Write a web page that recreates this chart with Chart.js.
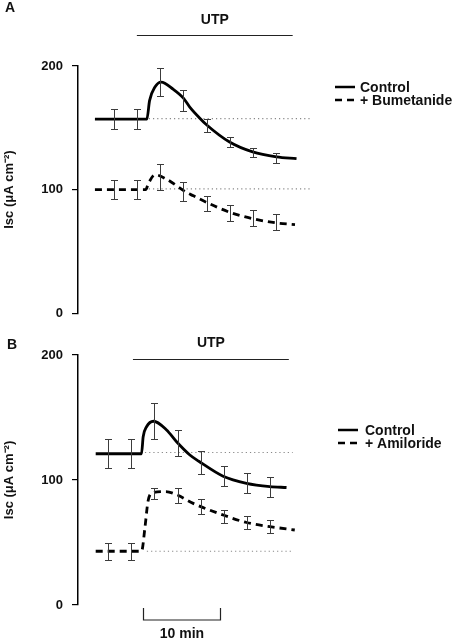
<!DOCTYPE html>
<html>
<head>
<meta charset="utf-8">
<script src="https://cdn.jsdelivr.net/npm/chart.js@4.4.0/dist/chart.umd.min.js"></script>
<style>
  html, body { margin: 0; padding: 0; background: #fff; }
  canvas { display: block; }
</style>
</head>
<body>
<canvas id="chartA" width="460" height="330"></canvas>
<canvas id="chartB" width="460" height="310"></canvas>
<script>
// all times in minutes from the start of the trace
const yTicks = [0, 100, 200];

// Panel A - control vs bumetanide
const meanTimeA = [2.5, 5.5, 8.5, 11.5, 14.5, 17.5, 20.5, 23.5];
const controlMeanA = [157, 157, 187, 172, 152, 138.5, 130, 125.7];
const controlErrA = [8, 8, 11, 8.5, 5.5, 4, 3.7, 4];
const bumetMeanA = [100, 100, 110, 98.5, 89, 81, 77, 73.5];
const bumetErrA = [7.5, 7.5, 10.5, 7.5, 6, 6.5, 6.5, 6.5];

const controlCurveTA = [0, 6.75, 7.1, 7.8, 8.6, 10.2, 11.5, 12.3, 13.6, 14.5, 17.5, 20.5, 23.6, 26.2];
const controlCurveA = [157, 157, 172, 183, 187, 181, 174, 167, 158, 152.5, 138.5, 130.5, 126.5, 125];
const bumetCurveTA = [0, 6.6, 6.95, 7.8, 9.3, 11.9, 12.8, 14.5, 17.5, 20.6, 23.6, 26.0];
const bumetCurveA = [100, 100, 105, 112, 108.4, 97.7, 95, 89.7, 81.7, 76.3, 73, 71.7];

const baseTA = [7.0, 27.9];
const controlBaseA = 157.4;
const bumetBaseA = 100.6;
const utpA = [5.45, 25.7];

// Panel B - control vs amiloride
const meanTimeB = [1.7, 4.7, 7.65, 10.75, 13.75, 16.8, 19.75, 22.8];
const controlMeanB = [121, 121, 147, 129.6, 113.7, 103.5, 97.6, 94.7];
const controlErrB = [11.6, 11.6, 14.4, 10.4, 9.2, 8, 8, 8];
const amilMeanB = [43, 43, 89, 87.6, 78.5, 70.7, 66.1, 62.8];
const amilErrB = [6.7, 6.7, 4.4, 6, 6, 5.3, 5.3, 5.2];

const controlCurveTB = [0.1, 6.05, 6.27, 6.71, 7.62, 9.31, 10.61, 12.34, 13.5, 16.66, 19.7, 22.73, 24.9];
const controlCurveB = [121, 121, 134.6, 142.6, 147, 140, 130.6, 120, 115, 103, 97.3, 94.7, 94];
const amilCurveTB = [0.1, 6.06, 6.5, 6.9, 7.5, 9.2, 10.7, 12.77, 16.66, 19.7, 22.73, 25.97];
const amilCurveB = [43, 43, 62, 83, 89.8, 90.7, 88, 81.3, 72, 66, 62.7, 60];

const controlBaseTB = [6.5, 25.7];
const amilBaseTB = [6.75, 25.7];
const controlBaseB = 122;
const amilBaseB = 43;
const utpB = [4.94, 25.2];
const scaleBarB = [6.2, 16.2];

const FONT = '"Liberation Sans", Arial, Helvetica, sans-serif';

function pts(xs, ys) {
  return xs.map((x, i) => ({ x: x, y: ys[i] }));
}

// error bars for datasets carrying an `errors` array
const errorBars = {
  id: 'errorBars',
  afterDatasetsDraw(chart) {
    const ctx = chart.ctx, xs = chart.scales.x, ys = chart.scales.y;
    chart.data.datasets.forEach(ds => {
      if (!ds.errors) return;
      ctx.save();
      ctx.strokeStyle = '#3c3c3c';
      ctx.lineWidth = 1;
      ds.data.forEach((p, i) => {
        const x = Math.round(xs.getPixelForValue(p.x)) + 0.5;
        const top = Math.round(ys.getPixelForValue(p.y + ds.errors[i])) + 0.5;
        const bot = Math.round(ys.getPixelForValue(p.y - ds.errors[i])) + 0.5;
        ctx.beginPath();
        ctx.moveTo(x, top); ctx.lineTo(x, bot);
        ctx.moveTo(x - 3.5, top); ctx.lineTo(x + 3.5, top);
        ctx.moveTo(x - 3.5, bot); ctx.lineTo(x + 3.5, bot);
        ctx.stroke();
      });
      ctx.restore();
    });
  }
};

// legend to the right of the plot, one row per dataset flagged inLegend
const sideLegend = {
  id: 'sideLegend',
  afterDraw(chart, args, opts) {
    const ctx = chart.ctx;
    let y = opts.top;
    chart.data.datasets.filter(ds => ds.inLegend).forEach(ds => {
      ctx.save();
      ctx.strokeStyle = ds.borderColor;
      ctx.lineWidth = 2.5;
      ctx.setLineDash(ds.borderDash || []);
      ctx.beginPath();
      ctx.moveTo(opts.left, y);
      ctx.lineTo(opts.left + 20, y);
      ctx.stroke();
      ctx.setLineDash([]);
      ctx.fillStyle = '#111';
      ctx.font = 'bold 14px ' + FONT;
      ctx.textBaseline = 'middle';
      ctx.fillText(ds.label, opts.left + opts.textGap, y + 1);
      ctx.restore();
      y += opts.rowGap;
    });
  }
};

// panel letter, UTP bar and optional time scale bar
const panelDecor = {
  id: 'panelDecor',
  afterDraw(chart, args, opts) {
    const ctx = chart.ctx, xs = chart.scales.x;
    ctx.save();
    ctx.fillStyle = '#111';
    ctx.strokeStyle = '#222';
    ctx.font = 'bold 14px ' + FONT;
    ctx.textBaseline = 'middle';
    ctx.fillText(opts.letter, opts.letterX, opts.letterY);

    const u0 = xs.getPixelForValue(opts.utp[0]);
    const u1 = xs.getPixelForValue(opts.utp[1]);
    ctx.lineWidth = 1;
    ctx.beginPath();
    ctx.moveTo(u0, opts.utpLineY + 0.5);
    ctx.lineTo(u1, opts.utpLineY + 0.5);
    ctx.stroke();
    ctx.textAlign = 'center';
    ctx.fillText('UTP', (u0 + u1) / 2, opts.utpTextY);

    if (opts.scaleBar) {
      const s0 = Math.round(xs.getPixelForValue(opts.scaleBar[0])) + 0.5;
      const s1 = Math.round(xs.getPixelForValue(opts.scaleBar[1])) + 0.5;
      ctx.lineWidth = 1.2;
      ctx.beginPath();
      ctx.moveTo(s0, opts.barY - 12);
      ctx.lineTo(s0, opts.barY);
      ctx.lineTo(s1, opts.barY);
      ctx.lineTo(s1, opts.barY - 12);
      ctx.stroke();
      ctx.fillText('10 min', (s0 + s1) / 2, opts.barY + 14);
    }
    ctx.restore();
  }
};

function curveSet(label, data, dashed) {
  return {
    label: label,
    data: data,
    borderColor: '#000',
    borderWidth: 2.8,
    borderDash: dashed ? [7, 5] : [],
    pointRadius: 0,
    cubicInterpolationMode: 'monotone',
    inLegend: true,
    order: 1
  };
}

function meanSet(data, errors) {
  return {
    data: data,
    errors: errors,
    showLine: false,
    pointRadius: 0,
    order: 2
  };
}

function baseSet(data) {
  return {
    data: data,
    borderColor: '#888',
    borderWidth: 1.2,
    borderDash: [1.2, 3],
    pointRadius: 0,
    order: 3
  };
}

function makeChart(id, datasets, pad, decor, legend) {
  const ctx = document.getElementById(id).getContext('2d');
  return new Chart(ctx, {
    type: 'line',
    data: { datasets: datasets },
    plugins: [errorBars, sideLegend, panelDecor],
    options: {
      responsive: false,
      animation: false,
      layout: { padding: { left: 0, right: 145, top: pad.top, bottom: pad.bottom } },
      scales: {
        x: { type: 'linear', min: -2.2, max: 28.6, display: false },
        y: {
          min: 0,
          max: 200,
          afterFit: s => { s.width = 78; },
          afterBuildTicks: s => { s.ticks = yTicks.map(v => ({ value: v })); },
          grid: { drawOnChartArea: false, drawTicks: true, tickLength: 6, color: '#000', lineWidth: 1.2 },
          border: { display: true, color: '#000', width: 1.5 },
          ticks: { padding: 9, color: '#111', font: { family: FONT, size: 13, weight: 'bold' } },
          title: {
            display: true,
            text: 'Isc (μA cm⁻²)',
            color: '#111',
            padding: { top: 2, bottom: 0 },
            font: { family: FONT, size: 13, weight: 'bold' }
          }
        }
      },
      plugins: {
        legend: { display: false },
        tooltip: { enabled: false },
        sideLegend: legend,
        panelDecor: decor
      }
    }
  });
}

makeChart('chartA', [
  curveSet('Control', pts(controlCurveTA, controlCurveA), false),
  curveSet('+ Bumetanide', pts(bumetCurveTA, bumetCurveA), true),
  meanSet(pts(meanTimeA, controlMeanA), controlErrA),
  meanSet(pts(meanTimeA, bumetMeanA), bumetErrA),
  baseSet(pts(baseTA, [controlBaseA, controlBaseA])),
  baseSet(pts(baseTA, [bumetBaseA, bumetBaseA]))
], { top: 66, bottom: 15 },
  { letter: 'A', letterX: 5, letterY: 8, utp: utpA, utpLineY: 35, utpTextY: 20 },
  { left: 335, top: 87, rowGap: 13, textGap: 25 });

makeChart('chartB', [
  curveSet('Control', pts(controlCurveTB, controlCurveB), false),
  curveSet('+ Amiloride', pts(amilCurveTB, amilCurveB), true),
  meanSet(pts(meanTimeB, controlMeanB), controlErrB),
  meanSet(pts(meanTimeB, amilMeanB), amilErrB),
  baseSet(pts(controlBaseTB, [controlBaseB, controlBaseB])),
  baseSet(pts(amilBaseTB, [amilBaseB, amilBaseB]))
], { top: 25, bottom: 35 },
  { letter: 'B', letterX: 7, letterY: 15, utp: utpB, utpLineY: 29, utpTextY: 13, scaleBar: scaleBarB, barY: 290 },
  { left: 338, top: 100, rowGap: 13, textGap: 27 });
</script>
</body>
</html>
